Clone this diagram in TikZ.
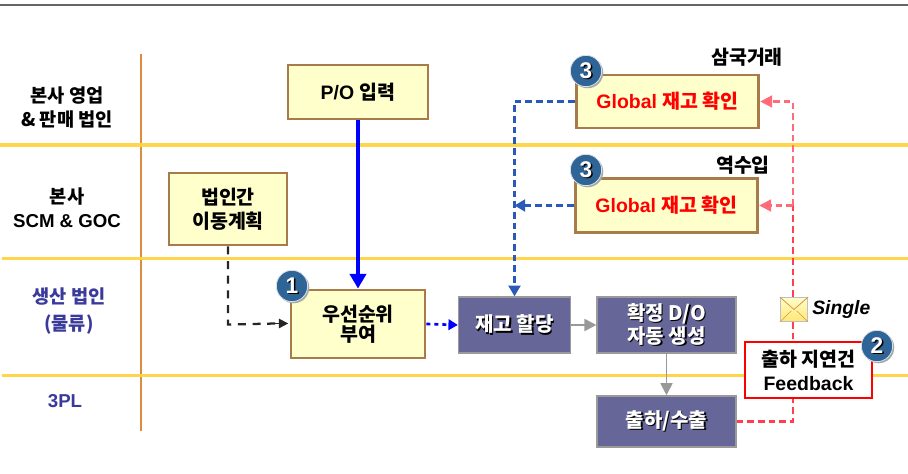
\documentclass[tikz,border=0pt]{standalone}
\usepackage{fontspec}
\setmainfont{Liberation Sans}
\newfontfamily\krf{Noto Sans CJK KR}
\newcommand{\K}[1]{{\krf\bfseries #1}}
\usetikzlibrary{arrows.meta,calc,shadows}
\definecolor{boxfill}{HTML}{FFFFCC}
\definecolor{boxedge}{HTML}{A87B4A}
\definecolor{slate}{HTML}{666699}
\definecolor{slateedge}{HTML}{9A9A9A}
\definecolor{band}{HTML}{FFD54A}
\definecolor{axis}{HTML}{DD8B3F}
\definecolor{lanetext}{HTML}{3A3A9A}
\definecolor{navy}{HTML}{2A5AB8}
\definecolor{pinkline}{HTML}{FF6B78}
\definecolor{redline}{HTML}{FF3F50}
\definecolor{badgeblue}{HTML}{2F6496}
\newcommand{\Sh}[1]{\leavevmode\rlap{\raisebox{-1pt}{\hspace{1pt}\textcolor{black}{#1}}}\textcolor{white}{#1}}
\tikzset{
  x=0.75pt,y=-0.75pt,
  yellowbox/.style={draw=boxedge,fill=boxfill,line width=2.1pt,inner sep=0pt,align=center,font=\fontsize{14.6}{15}\selectfont\bfseries,
    general shadow={shadow xshift=0.8pt,shadow yshift=-0.8pt,fill=black!15}},
  slatebox/.style={draw=slateedge,fill=slate,line width=1.1pt,inner sep=0pt,align=center,font=\fontsize{15}{17}\selectfont\bfseries},
  lane/.style={inner sep=0pt,align=center,font=\fontsize{14}{18}\selectfont\bfseries},
  badge/.style={circle,draw=white!80!badgeblue,line width=0.6pt,fill=badgeblue,inner sep=0pt,minimum size=23.5pt,text=white,
    font=\fontsize{17}{17}\selectfont\bfseries,general shadow={shadow xshift=1.2pt,shadow yshift=-1.2pt,fill=black!35}},
  bandline/.style={band,line width=2.3pt},
}
\begin{document}
\begin{tikzpicture}
\useasboundingbox (0,0) rectangle (908,474);
% frame lines
\draw[black!60,line width=2pt] (0,5) -- (908,5);
\draw[axis,line width=1.5pt] (141,54) -- (141,431);
\draw[bandline] (0,145) -- (908,145);
\draw[bandline] (2,258.5) -- (908,258.5);
\draw[bandline] (2,375.5) -- (908,375.5);
% lane labels
\node[lane] (l1) at (67,108) {\K{본사 영업}\\\K{\&\ 판매 법인}};
\node[lane] (l2) at (67,208) {\K{본사}\\SCM \& GOC};
\node[lane,text=lanetext,font=\fontsize{14}{20}\selectfont\bfseries] (l3) at (69,311) {\K{생산 법인}\\\K{(물류)}};
\node[lane,text=lanetext] (l4) at (65,401) {3PL};
% boxes
\node[yellowbox,minimum width=105pt,minimum height=40.5pt] (po) at (358,92) {P/O \K{입력}};
\node[yellowbox,minimum width=88.5pt,minimum height=54pt,font=\fontsize{14.6}{18}\selectfont\bfseries] (move) at (228,209) {\K{법인간}\\\K{이동계획}};
\node[yellowbox,minimum width=100.5pt,minimum height=51pt] (prio) at (358,324) {\K{우선순위}\\\K{부여}};
\node[yellowbox,minimum width=137pt,minimum height=39.8pt,text=red] (g1) at (667.5,101.5) {Global \K{재고 확인}};
\node[yellowbox,minimum width=137pt,minimum height=40.5pt,text=red] (g2) at (666.5,205.5) {Global \K{재고 확인}};
\node[slatebox,minimum width=84pt,minimum height=42pt] (alloc) at (514.5,325) {\Sh{\K{재고 할당}}};
\node[slatebox,minimum width=104pt,minimum height=42pt] (conf) at (666.5,325) {\Sh{\K{확정 D/O}}\\\Sh{\K{자동 생성}}};
\node[slatebox,minimum width=104pt,minimum height=38.3pt] (ship) at (666.5,421.5) {\Sh{\K{출하/수출}}};
% connector corners
\coordinate (rc) at (793,421.5);
\coordinate (rb) at (793,205.5);
\coordinate (rt) at (793,101.5);
\coordinate (nt) at (514.5,101.5);
\coordinate (nm) at (514.5,205.5);
\coordinate (kc) at (228,324.5);
% connectors
\draw[blue,line width=3.6pt,-{Triangle[length=11pt,width=12pt]}] (po.south) -- (prio.north);
\draw[black!85,line width=1.7pt,dash pattern=on 6pt off 5pt] (move.south) -- (kc) -- ($(prio.west)+(-9pt,0.4pt)$);
\draw[black!85,line width=1.2pt,-{Triangle[length=7pt,width=7pt]}] ($(prio.west)+(-11pt,0.4pt)$) -- ($(prio.west)+(-1pt,0.4pt)$);
\draw[blue,line width=2pt,dash pattern=on 3pt off 3pt,-{Triangle[length=7pt,width=8pt]}] (prio.east) -- (alloc.west);
\draw[black!40,line width=1.3pt,-{Triangle[length=9pt,width=9pt]}] (alloc.east) -- (conf.west);
\draw[black!40,line width=1.3pt,-{Triangle[length=9pt,width=9pt]}] (conf.south) -- (ship.north);
\draw[navy,line width=1.6pt,dash pattern=on 5pt off 3pt,-{Triangle[length=8pt,width=9pt]}] (g1.west) -- (nt) -- (alloc.north);
\draw[navy,line width=1.6pt,dash pattern=on 5pt off 3pt,-{Triangle[length=8pt,width=9pt]}] (g2.west) -- (nm);
\draw[redline,line width=1.8pt,dash pattern=on 5pt off 3pt] (ship.east) -- (rc) -- (rb);
\draw[pinkline,line width=1.6pt,dash pattern=on 5pt off 3pt,-{Triangle[length=9pt,width=9pt]}] (rb) -- (rt) -- (g1.east);
\draw[pinkline,line width=1.6pt,dash pattern=on 5pt off 3pt,-{Triangle[length=9pt,width=9pt]}] (rb) -- (g2.east);
% captions
\node[inner sep=0pt,font=\fontsize{14.6}{16}\selectfont] (cap1) at (747,57) {\K{삼국거래}};
\node[inner sep=0pt,font=\fontsize{14.6}{16}\selectfont] (cap2) at (743,165) {\K{역수입}};
% badges
\node[badge] (b1) at (292,286) {\Sh{1}};
\node[badge] (b3a) at (586,71) {\Sh{3}};
\node[badge] (b3b) at (586,170) {\Sh{3}};
% feedback
\node[draw=red,fill=white,line width=1.1pt,inner sep=0pt,minimum width=95pt,minimum height=42pt,align=center,
  font=\fontsize{14.6}{18}\selectfont\bfseries] (fb) at (808.5,370) {\K{출하 지연건}\\Feedback};
\node[badge] (b2) at (877,346) {\Sh{2}};
% envelope
\node[draw=black!25,line width=0.8pt,minimum width=20.5pt,minimum height=18pt,inner sep=0pt,top color=yellow!20!white,bottom color=orange!35!yellow!55!white] (env) at (794,309.5) {};
\draw[black!20!orange!70,line width=0.6pt] (env.north west) -- (env.center) -- (env.north east);
\draw[black!20!orange!70,line width=0.4pt] (env.south west) -- ($(env.center)+(-2pt,-1pt)$);
\draw[black!20!orange!70,line width=0.4pt] (env.south east) -- ($(env.center)+(2pt,-1pt)$);
\node[inner sep=0pt,anchor=west,font=\fontsize{14.5}{16}\selectfont\bfseries\itshape] (single) at (812,310) {Single};
\end{tikzpicture}
\end{document}
